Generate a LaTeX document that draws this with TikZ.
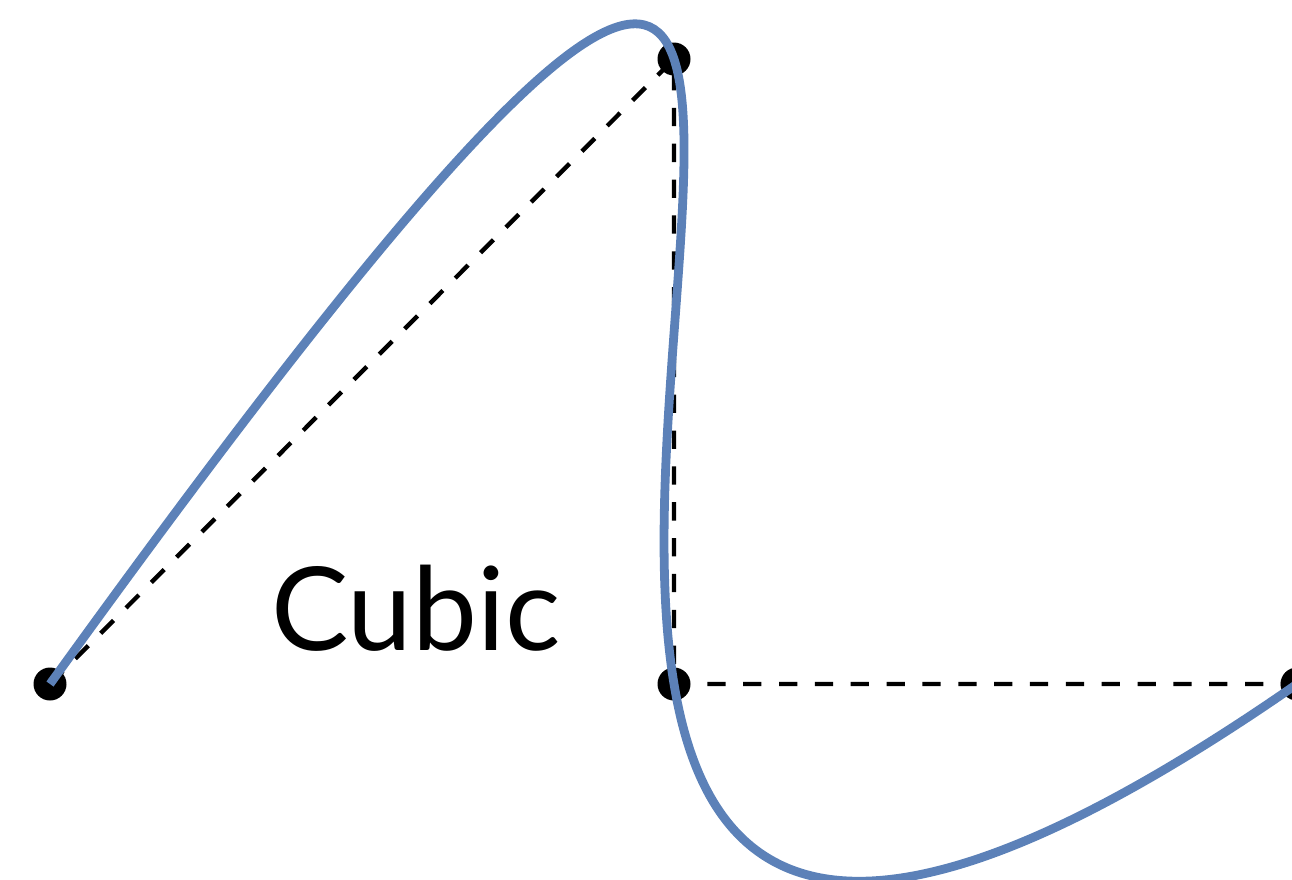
\documentclass[tikz,border=0pt]{standalone}
\usepackage{fontspec}
\newfontfamily\labelfont{Lato}
\usetikzlibrary{calc}
\definecolor{curveblue}{RGB}{92,129,184}
\tikzset{
  polygon/.style={black,line width=1.25pt,dash pattern=on 5.2pt off 5pt},
  spline/.style={curveblue,line width=2.5pt},
  knot/.style={circle,fill=black,inner sep=0pt,minimum size=3.3mm}
}
\begin{document}
\begin{tikzpicture}[x=0.1mm,y=-0.1mm]
    \useasboundingbox (0,0) rectangle (1292,879);
    % interpolation points
    \coordinate (p0) at (50,684);
    \coordinate (p1) at (674,59);
    \coordinate (p2) at (674,684);
    \coordinate (p3) at (1297,684);
    % bezier controls of the cubic through p0..p3 at t=0,1/3,2/3,1
    \coordinate (c1) at ($3*(p1) - 0.83333*(p0) - 1.5*(p2) + 0.33333*(p3)$);
    \coordinate (c2) at ($3*(p2) + 0.33333*(p0) - 1.5*(p1) - 0.83333*(p3)$);

    \draw[polygon] (p0) -- (p1) -- (p2) -- (p3);
    \foreach \p in {p0,p1,p2,p3}{
      \node[knot] (k\p) at (\p) {};
    }
    \draw[spline] (p0) .. controls (c1) and (c2) .. (p3);

    \node[anchor=base,font=\labelfont\fontsize{33}{33}\selectfont] (lbl) at (416,650) {Cubic};
  \end{tikzpicture}
\end{document}
